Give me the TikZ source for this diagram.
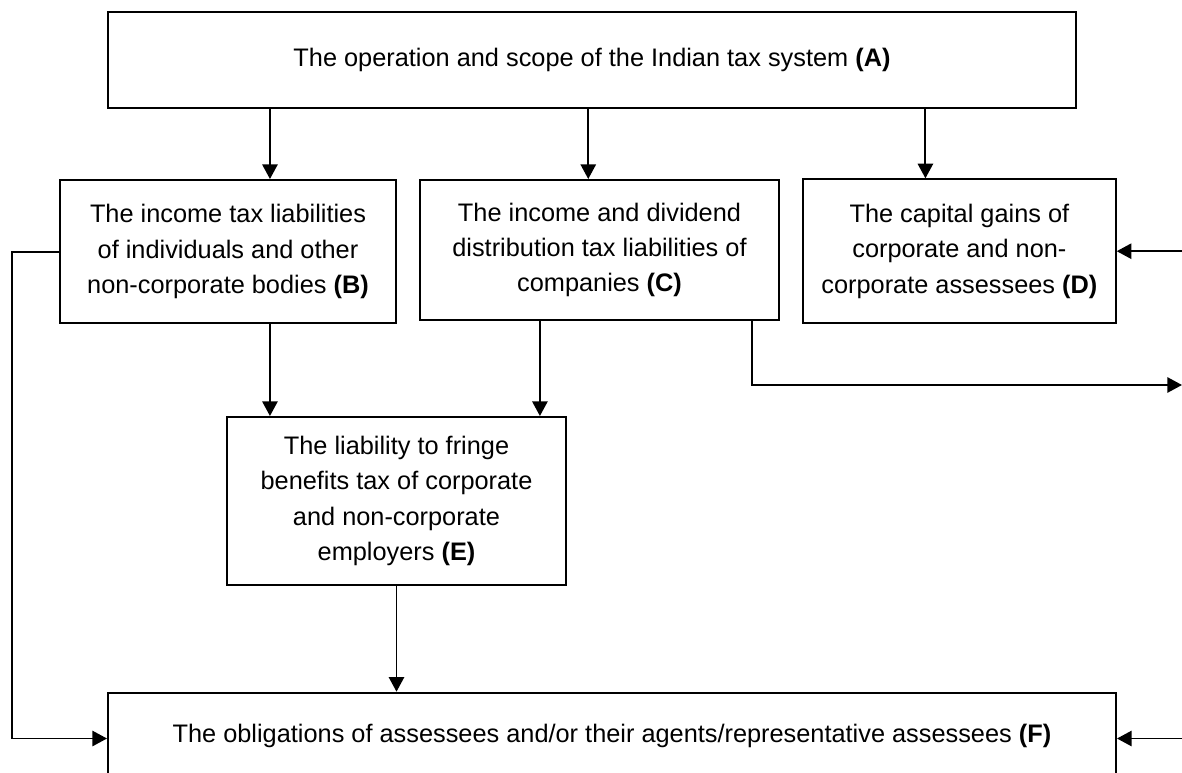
\documentclass[tikz,border=0pt]{standalone}
\usepackage{fontspec}
\setmainfont{Liberation Sans}
\usepackage{tikz}
\usetikzlibrary{shapes,arrows.meta}
\tikzstyle{block} = [rectangle, draw, line width=1.5pt, align=center,
font=\fontsize{19}{26.5}\selectfont, inner sep=0pt]
\tikzstyle{line} = [draw, line width=1.4pt, -{Triangle[length=11pt,width=11.5pt]}]

\begin{document}
\begin{tikzpicture}[x=0.75pt, y=-0.75pt]
\useasboundingbox (0,0) rectangle (1182,773);
\clip (0,0) rectangle (1182,773);
% Place nodes
\node [block, minimum width=726.4pt, minimum height=72pt] (A) at (592,59.7)
  {The operation and scope of the Indian tax system \textbf{(A)}};
\node [block, minimum width=252pt, minimum height=107.5pt] (B) at (228,251.7)
  {The income tax liabilities\\ of individuals and other\\ non-corporate bodies \textbf{(B)}};
\node [block, minimum width=269.25pt, minimum height=105pt] (C) at (599.5,250)
  {The income and dividend\\ distribution tax liabilities of\\ companies \textbf{(C)}};
\node [block, minimum width=234.5pt, minimum height=107.8pt] (D) at (959.4,251.2)
  {The capital gains of\\ corporate and non-\\ corporate assessees \textbf{(D)}};
\node [block, minimum width=254.25pt, minimum height=126pt] (E) at (396.5,501)
  {The liability to fringe\\ benefits tax of corporate\\ and non-corporate\\ employers \textbf{(E)}};
\node [block, minimum width=756pt, text height=37pt, text depth=80pt, anchor=north] (F) at (612,691.7)
  {The obligations of assessees and/or their agents/representative assessees \textbf{(F)}};
% Edge points outside the boxes
\coordinate (left) at (11.7,0);
\coordinate (right) at (1182,0);
\coordinate (out) at (1182,385);
% Draw edges
\path [line] (A.south -| B.60) -- (B.60);
\path [line] (A.south -| C.99) -- (C.99);
\path [line] (A.south -| D.115) -- (D.115);
\path [line] (B.300) -- (B.300 |- E.north);
\path [line] (C.230) -- (C.230 |- E.north);
\path [line] (C.335.5) |- (out);
\path [line] (right |- D.east) -- (D.east);
\path [line] (E.south) -- (E.south |- F.north);
\path [line] (B.west) -| (left |- F.mid west) -- (F.mid west);
\path [line] (right |- F.mid east) -- (F.mid east);
\end{tikzpicture}
\end{document}
